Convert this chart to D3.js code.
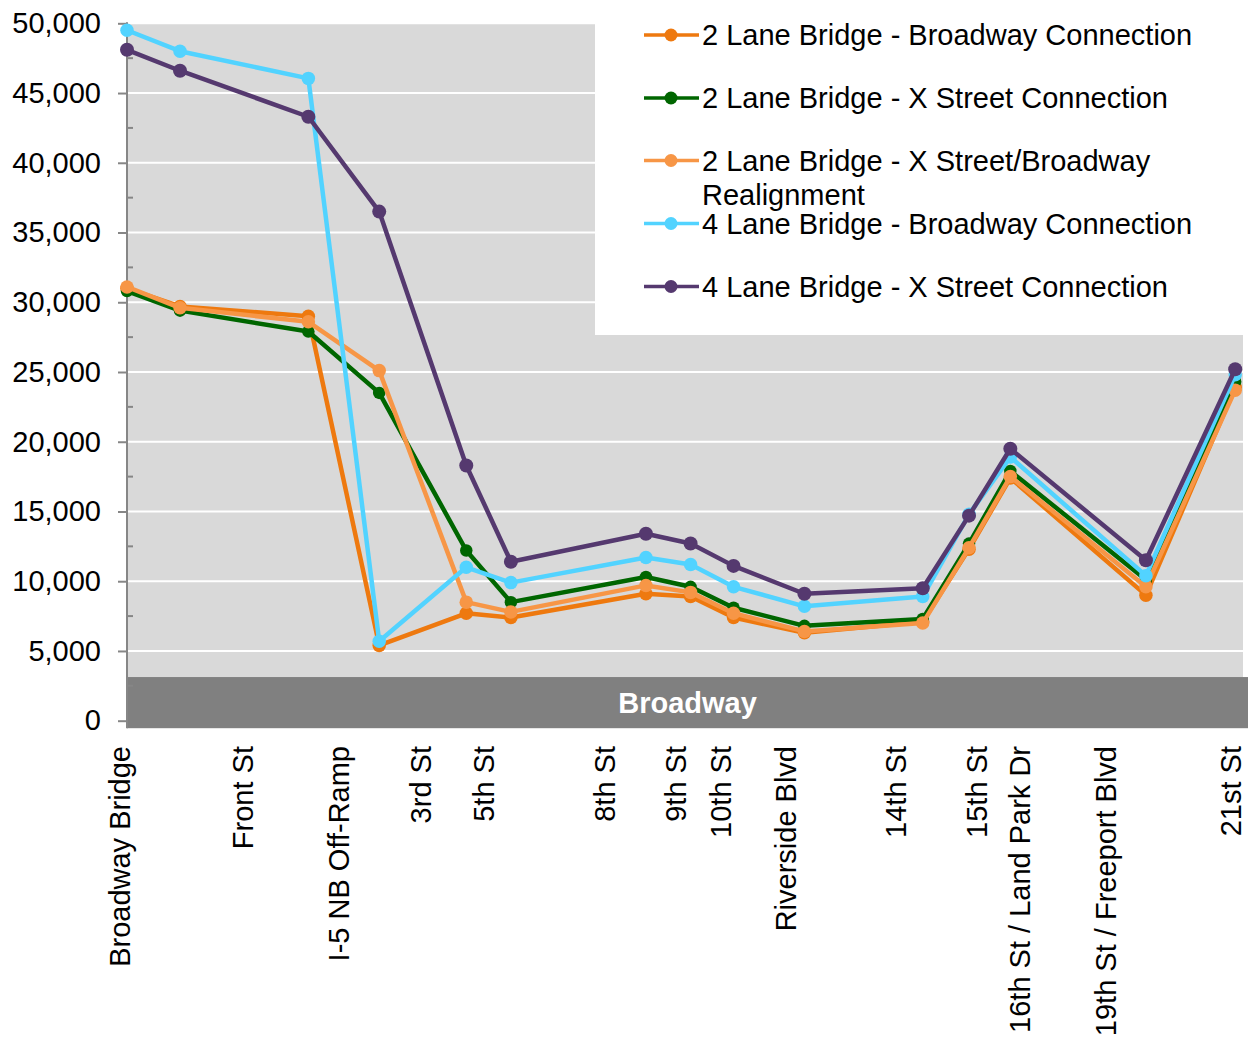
<!DOCTYPE html>
<html>
<head>
<meta charset="utf-8">
<script src="https://cdn.jsdelivr.net/npm/d3@7"></script>
<style>
  html, body { margin: 0; padding: 0; background: #ffffff; }
  svg text { font-family: "Liberation Sans", Arial, Helvetica, sans-serif; }
</style>
</head>
<body>
<svg id="chart" width="1251" height="1040"></svg>
<script>
// Position of each count location along Broadway, in miles from the bridge
const countMiles = [0, 0.095, 0.325, 0.452, 0.608, 0.688, 0.930, 1.010, 1.087, 1.214, 1.426, 1.509, 1.583, 1.826, 1.986];

// Daily traffic volumes per scenario at each count location
const twoLaneBroadway = [31000, 29700, 29000, 5400, 7700, 7400, 9100, 8900, 7400, 6300, 7100, 12300, 17400, 9000, 23900];
const twoLaneXStreet  = [30800, 29400, 27900, 23500, 12200, 8500, 10300, 9600, 8100, 6800, 7300, 12700, 17900, 10100, 24300];
const twoLaneRealign  = [31100, 29600, 28600, 25100, 8500, 7800, 9700, 9200, 7700, 6400, 7000, 12400, 17500, 9600, 23700];
const fourLaneBroadway = [49500, 48000, 46050, 5700, 11000, 9900, 11700, 11200, 9600, 8200, 8900, 14800, 18900, 10400, 24800];
const fourLaneXStreet  = [48100, 46600, 43300, 36500, 18300, 11400, 13400, 12700, 11100, 9100, 9500, 14700, 19500, 11500, 25200];

// Cross-street labels along the corridor and where they sit (miles)
const streetNames = ["Broadway Bridge", "Front St", "I-5 NB Off-Ramp", "3rd St", "5th St", "8th St", "9th St", "10th St",
  "Riverside Blvd", "14th St", "15th St", "16th St / Land Park Dr", "19th St / Freeport Blvd", "21st St"];
const streetMiles = [-0.013, 0.208, 0.380, 0.527, 0.640, 0.857, 0.984, 1.065, 1.181, 1.378, 1.523, 1.600, 1.754, 1.978];

const yTicks = [0, 5000, 10000, 15000, 20000, 25000, 30000, 35000, 40000, 45000, 50000];
const seriesNames = [
  ["2 Lane Bridge - Broadway Connection"],
  ["2 Lane Bridge - X Street Connection"],
  ["2 Lane Bridge - X Street/Broadway", "Realignment"],
  ["4 Lane Bridge - Broadway Connection"],
  ["4 Lane Bridge - X Street Connection"]
];
const seriesColors = ["#EE790F", "#006600", "#F79646", "#52D3FF", "#55396F"];
const seriesRadius = [6.75, 6.25, 6.75, 6.75, 7];
const seriesValues = [twoLaneBroadway, twoLaneXStreet, twoLaneRealign, fourLaneBroadway, fourLaneXStreet];

const svg = d3.select("#chart");
const plot = { left: 127, right: 1243, top: 23.3, bottom: 720.7 };

const x = d3.scaleLinear().domain([0, 2]).range([plot.left, plot.right]);
const y = d3.scaleLinear().domain([0, 50000]).range([plot.bottom, plot.top]);

// Plot background
svg.append("rect")
  .attr("x", plot.left).attr("y", plot.top)
  .attr("width", plot.right - plot.left).attr("height", plot.bottom - plot.top)
  .attr("fill", "#d9d9d9");

// Horizontal gridlines
svg.append("g").selectAll("line").data(yTicks.filter(d => d > 0)).join("line")
  .attr("x1", plot.left).attr("x2", plot.right)
  .attr("y1", d => y(d)).attr("y2", d => y(d))
  .attr("stroke", "#ffffff").attr("stroke-width", 2);

// Corridor band along the bottom
const bandTop = y(3130), bandBottom = y(0) + 7.5;
svg.append("rect")
  .attr("x", plot.left).attr("y", bandTop)
  .attr("width", 1248 - plot.left).attr("height", bandBottom - bandTop)
  .attr("fill", "#808080");
svg.append("text")
  .attr("x", (plot.left + 1248) / 2).attr("y", (bandTop + bandBottom) / 2)
  .attr("dy", "0.35em")
  .attr("text-anchor", "middle")
  .attr("font-size", 29).attr("font-weight", "bold")
  .attr("fill", "#ffffff")
  .text("Broadway");

// Y axis with major ticks outside and minor ticks inside
const yAxis = d3.axisLeft(y).tickValues(yTicks).tickSize(9).tickPadding(17)
  .tickFormat(d3.format(","));
const gy = svg.append("g").attr("transform", `translate(${plot.left},0)`).call(yAxis);
gy.select(".domain").remove();
gy.selectAll(".tick line").attr("stroke", "#868686").attr("stroke-width", 2);
gy.selectAll(".tick text").attr("font-size", 29).attr("fill", "#000").attr("font-family", "Liberation Sans, Arial, sans-serif");
const minor = d3.range(2500, 50000, 5000);
svg.append("g").selectAll("line").data(minor).join("line")
  .attr("x1", plot.left).attr("x2", plot.left + 6)
  .attr("y1", d => y(d)).attr("y2", d => y(d))
  .attr("stroke", "#868686").attr("stroke-width", 2);
svg.append("line")
  .attr("x1", plot.left).attr("x2", plot.left)
  .attr("y1", plot.top - 1).attr("y2", bandBottom)
  .attr("stroke", "#868686").attr("stroke-width", 2);

// Street labels, rotated
svg.append("g").selectAll("text").data(streetNames).join("text")
  .attr("transform", (d, i) => `translate(${x(streetMiles[i])},746) rotate(-90)`)
  .attr("text-anchor", "end")
  .attr("dy", "0.35em")
  .attr("font-size", 29)
  .attr("fill", "#000")
  .text(d => d);

// Series lines and markers
const line = d3.line().x((d, i) => x(countMiles[i])).y(d => y(d));
seriesValues.forEach((vals, s) => {
  const g = svg.append("g");
  g.append("path").datum(vals)
    .attr("d", line)
    .attr("fill", "none")
    .attr("stroke", seriesColors[s])
    .attr("stroke-width", 4.5)
    .attr("stroke-linejoin", "round");
  g.selectAll("circle").data(vals).join("circle")
    .attr("cx", (d, i) => x(countMiles[i]))
    .attr("cy", d => y(d))
    .attr("r", seriesRadius[s])
    .attr("fill", seriesColors[s]);
});

// Legend
const legend = svg.append("g");
legend.append("rect")
  .attr("x", 595).attr("y", 0).attr("width", 1251 - 595).attr("height", 335)
  .attr("fill", "#ffffff");
const rowY = [35, 98, 160.5, 223.5, 286.5];
seriesNames.forEach((lines, s) => {
  const row = legend.append("g").attr("transform", `translate(0,${rowY[s]})`);
  row.append("line")
    .attr("x1", 644).attr("x2", 699).attr("y1", 0).attr("y2", 0)
    .attr("stroke", seriesColors[s]).attr("stroke-width", 3.5);
  row.append("circle").attr("cx", 671).attr("cy", 0).attr("r", 6.5).attr("fill", seriesColors[s]);
  const t = row.append("text")
    .attr("x", 702).attr("y", 0)
    .attr("font-size", 29).attr("fill", "#000");
  lines.forEach((ln, k) => {
    t.append("tspan").attr("x", 702).attr("dy", k === 0 ? "0.35em" : "1.17em").text(ln);
  });
});
</script>
</body>
</html>
